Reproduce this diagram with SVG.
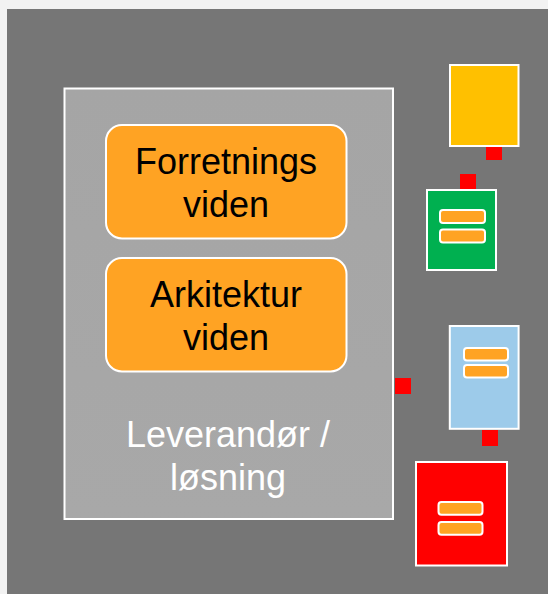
<svg xmlns="http://www.w3.org/2000/svg" width="548" height="594" viewBox="0 0 548 594">
<defs>
<linearGradient id="g" x1="0" y1="0" x2="0" y2="1"><stop offset="0" stop-color="#a5a5a5"/><stop offset="1" stop-color="#a8a8a8"/></linearGradient>
<style>
.w{stroke:#fff;stroke-width:2}
.bar{fill:#ffa323;stroke:#fff;stroke-width:2}
.t{font-family:"Liberation Sans",Arial,sans-serif;font-size:36px;text-anchor:middle}
.c{fill:#ff0000}
</style>
</defs>
<rect x="0" y="0" width="548" height="594" fill="#f2f2f2"/>
<rect x="7" y="9" width="541" height="585" fill="#767676"/>
<g id="main">
<rect x="64.5" y="88.5" width="328.5" height="430.5" fill="url(#g)" class="w"/>
<text class="t" x="228" y="447" fill="#fff">Leverandør /</text>
<text class="t" x="228" y="490" fill="#fff">løsning</text>
</g>
<g id="forretning">
<rect x="106" y="125" width="240.5" height="113.5" rx="16" fill="#ffa323" class="w"/>
<text class="t" x="226" y="173.5" fill="#000">Forretnings</text>
<text class="t" x="226" y="216.5" fill="#000">viden</text>
</g>
<g id="arkitektur">
<rect x="106" y="258" width="240.5" height="113.5" rx="16" fill="#ffa323" class="w"/>
<text class="t" x="226" y="306.5" fill="#000">Arkitektur</text>
<text class="t" x="226" y="349.5" fill="#000">viden</text>
</g>
<g id="yellow">
<rect x="450" y="65" width="68.5" height="81" fill="#ffc000" class="w"/>
</g>
<g id="green">
<rect x="427" y="190" width="69" height="80" fill="#00b050" class="w"/>
<rect x="440" y="210" width="45" height="13" rx="3" class="bar"/>
<rect x="440" y="229.5" width="45" height="13" rx="3" class="bar"/>
</g>
<g id="blue">
<rect x="449.8" y="326" width="68.8" height="102.8" fill="#9dcbea" class="w"/>
<rect x="464" y="348" width="44" height="12.5" rx="3" class="bar"/>
<rect x="464" y="365" width="44" height="12.5" rx="3" class="bar"/>
</g>
<g id="redbox">
<rect x="416" y="462" width="91" height="103.5" fill="#ff0000" class="w"/>
<rect x="438.5" y="502" width="44" height="12.8" rx="3" class="bar"/>
<rect x="438.5" y="522" width="44" height="12.8" rx="3" class="bar"/>
</g>
<g id="connectors">
<rect class="c" x="486" y="147" width="16" height="13"/>
<rect class="c" x="460" y="174" width="16" height="15"/>
<rect class="c" x="395" y="378" width="16" height="16"/>
<rect class="c" x="482" y="430" width="16" height="16"/>
</g>
</svg>
